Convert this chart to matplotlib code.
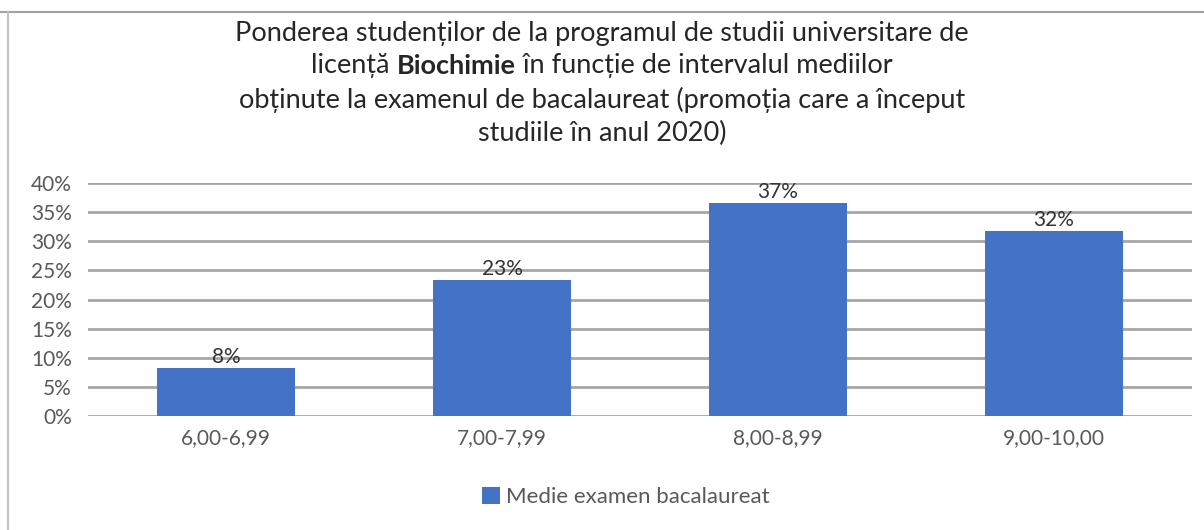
import matplotlib
matplotlib.use("Agg")
import matplotlib.pyplot as plt

# data
categories = ["6,00-6,99", "7,00-7,99", "8,00-8,99", "9,00-10,00"]
values = [8.2, 23.3, 36.6, 31.7]
series_name = "Medie examen bacalaureat"
yticks = [0, 5, 10, 15, 20, 25, 30, 35, 40]

title_line1 = "Ponderea studenților de la programul de studii universitare de"
title_line2 = ["licență ", "Biochimie", " în funcție de intervalul mediilor"]
title_line3 = "obținute la examenul de bacalaureat (promoția care a început"
title_line4 = "studiile în anul 2020)"

plt.rcParams["font.family"] = ["Lato", "DejaVu Sans"]

bar_color = "#4472C4"
grid_color = "#A6A6A6"
text_color = "#333333"
tick_color = "#595959"
fs = 15

fig = plt.figure(figsize=(12.04, 5.30), dpi=100)
ax = fig.add_axes([88 / 1204, 114 / 530, 1104 / 1204, 233 / 530])

xs = range(len(categories))
bars = ax.bar(xs, values, width=0.5, color=bar_color, label=series_name, zorder=3)
for b, v in zip(bars, values):
    ax.text(b.get_x() + b.get_width() / 2, v + 0.2, f"{v:.0f}%", ha="center",
            va="bottom", fontsize=fs, color=text_color, zorder=4)

ax.set_xlim(-0.5, len(categories) - 0.5)
ax.set_ylim(0, 40)
ax.set_yticks(yticks)
ax.set_yticklabels([f"{t}%" for t in yticks], fontsize=fs, color=tick_color)
ax.set_xticks(list(xs))
ax.set_xticklabels(categories, fontsize=fs, color=tick_color)
ax.tick_params(length=0)
ax.tick_params(axis="y", pad=11.5)
ax.tick_params(axis="x", pad=9)
ax.yaxis.grid(True, color=grid_color, linewidth=2, zorder=0)
for s in ax.spines.values():
    s.set_visible(False)

# title, 4 centred lines, second line with bold word
tsize = 19.5
fig.text(0.5, 1 - 33 / 530, title_line1, ha="center", va="center", fontsize=tsize, color="#262626")
fig.text(0.5, 1 - 100 / 530, title_line3, ha="center", va="center", fontsize=tsize, color="#262626")
fig.text(0.5, 1 - 133 / 530, title_line4, ha="center", va="center", fontsize=tsize, color="#262626")

parts = []
for i, p in enumerate(title_line2):
    w = "bold" if i == 1 else "normal"
    parts.append(fig.text(0, 1 - 66 / 530, p, ha="left", va="center", fontsize=tsize,
                          fontweight=w, color="#262626"))
fig.canvas.draw()
r = fig.canvas.get_renderer()
widths = [t.get_window_extent(r).width / fig.bbox.width for t in parts]
x0 = 0.5 - sum(widths) / 2
for t, w in zip(parts, widths):
    t.set_x(x0)
    x0 += w

fig.legend(handles=[bars], labels=[series_name], loc="center", bbox_to_anchor=(626 / 1204, 1 - 497 / 530),
           frameon=False, fontsize=16, handlelength=0.8, handleheight=0.8, handletextpad=0.3,
           labelcolor=tick_color)

# frame lines at top and left like the screenshot
fig.add_artist(plt.Line2D([0, 1], [1 - 12 / 530, 1 - 12 / 530], color="#A0A0A0", linewidth=1.5))
fig.add_artist(plt.Line2D([8 / 1204, 8 / 1204], [0, 1 - 12 / 530], color="#C0C0C0", linewidth=1.5))

fig.savefig("out.png", dpi=100, facecolor="white")
